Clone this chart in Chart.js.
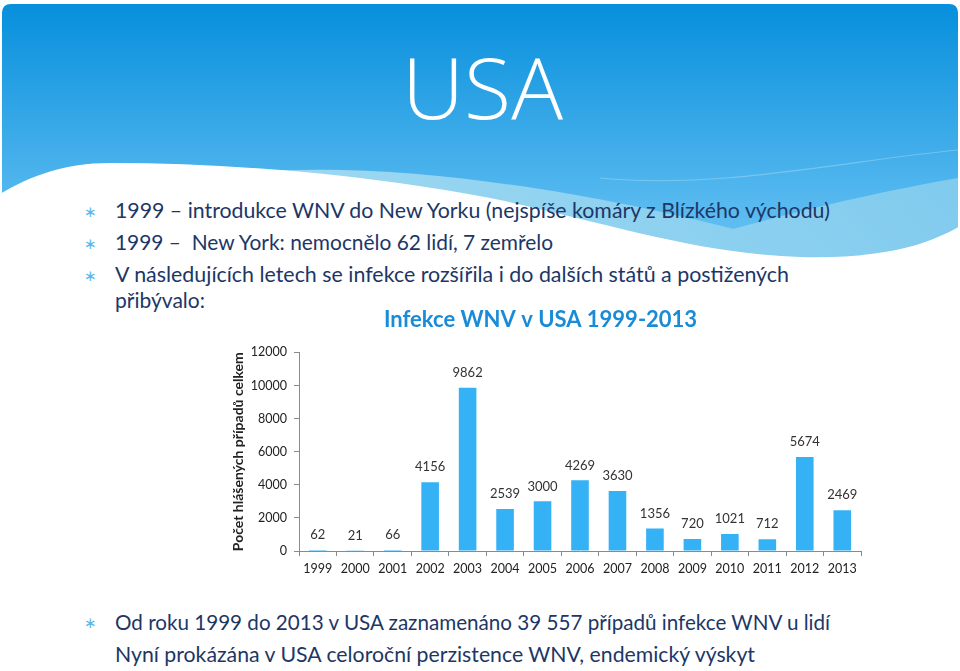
<!DOCTYPE html>
<html><head><meta charset="utf-8">
<script src="https://cdn.jsdelivr.net/npm/chart.js@4"></script>
<style>
html,body{margin:0;padding:0;width:960px;height:671px;overflow:hidden;background:#fff;font-family:Lato,"Open Sans",sans-serif;}
#bg{position:absolute;left:0;top:0}
.t{position:absolute;white-space:pre;transform-origin:0 50%;color:#1c3766;font-size:21px;line-height:26px;}
.b{position:absolute;color:#5ab8e8;font-size:15px;line-height:20px;}
#title{position:absolute;color:#fff;font-family:"Open Sans",sans-serif;font-weight:300;font-size:84px;line-height:90px;white-space:pre;transform-origin:0 50%;}
#wrap{position:absolute;left:220px;top:300px;width:660px;height:290px;}
</style></head>
<body>
<svg id="bg" width="960" height="671" viewBox="0 0 960 671">
  <defs>
    <linearGradient id="hg" x1="0" y1="0" x2="0" y2="1" gradientUnits="objectBoundingBox">
      <stop offset="0" stop-color="#078fdc"/>
      <stop offset="0.75" stop-color="#55b8ef"/>
      <stop offset="1" stop-color="#6cc3f2"/>
    </linearGradient>
    <linearGradient id="lb" x1="0" y1="0" x2="1" y2="0">
      <stop offset="0" stop-color="#a6dcf2"/>
      <stop offset="1" stop-color="#86cdee"/>
    </linearGradient>
  </defs>
  <path d="M2,13 Q2,4 11,4 L949,4 Q958,4 958,13 L958,265 L2,265 Z" fill="url(#hg)"/>
  <path d="M255,172 C420,160 620,200 733,229 C820,205 900,188 958,178 L958,265 L255,265 Z" fill="url(#lb)" opacity="0.9"/>
  <path d="M600,178 C720,190 850,160 958,150" stroke="#ffffff" stroke-opacity="0.25" stroke-width="1.2" fill="none"/>
  <path d="M0,194 C30,176 65,163 110,163 C250,163 390,178 500,200 C610,224 700,254 800,257 C875,259 925,247 960,226 L960,671 L0,671 Z" fill="#ffffff"/>
</svg>

<div id="title" data-w="161" style="left:402px;top:42px;">USA</div>

<div class="b" style="left:84px;top:201px;">∗</div>
<div class="t" data-w="715" style="left:115px;top:197px;">1999 – introdukce WNV do New Yorku (nejspíše komáry z Blízkého východu)</div>
<div class="b" style="left:84px;top:233px;">∗</div>
<div class="t" data-w="438" style="left:115px;top:229px;">1999 –  New York: nemocnělo 62 lidí, 7 zemřelo</div>
<div class="b" style="left:84px;top:265px;">∗</div>
<div class="t" data-w="674" style="left:115px;top:261px;">V následujících letech se infekce rozšířila i do dalších států a postižených</div>
<div class="t" data-w="90" style="left:115px;top:287px;">přibývalo:</div>

<div class="b" style="left:84px;top:612px;">∗</div>
<div class="t" data-w="715" style="left:115px;top:609px;">Od roku 1999 do 2013 v USA zaznamenáno 39 557 případů infekce WNV u lidí</div>
<div class="t" data-w="640" style="left:115px;top:641px;">Nyní prokázána v USA celoroční perzistence WNV, endemický výskyt</div>

<div id="wrap"><canvas id="c" width="660" height="290"></canvas></div>

<script>
const years = ['1999','2000','2001','2002','2003','2004','2005','2006','2007','2008','2009','2010','2011','2012','2013'];
const cases = [62,21,66,4156,9862,2539,3000,4269,3630,1356,720,1021,712,5674,2469];
const yMin = 0, yMax = 12000, yStep = 2000;
const chartTitle = 'Infekce WNV v USA 1999-2013';
const yAxisTitle = 'Počet hlášených případů celkem';

document.querySelectorAll('[data-w]').forEach(el => {
  const w = el.getBoundingClientRect().width;
  const target = parseFloat(el.dataset.w);
  if (w > 0) el.style.transform = 'scaleX(' + (target / w) + ')';
});

const valueLabels = {
  id: 'valueLabels',
  afterDatasetsDraw(chart) {
    const ctx = chart.ctx;
    const meta = chart.getDatasetMeta(0);
    ctx.save();
    ctx.font = '13px Lato, sans-serif';
    ctx.fillStyle = '#333';
    ctx.textAlign = 'center';
    ctx.textBaseline = 'middle';
    meta.data.forEach((bar, i) => {
      ctx.fillText(String(cases[i]), bar.x, bar.y - 15);
    });
    ctx.restore();
  }
};

new Chart(document.getElementById('c'), {
  type: 'bar',
  data: {
    labels: years,
    datasets: [{
      data: cases,
      backgroundColor: '#35b2f6',
      borderWidth: 0,
      barPercentage: 0.47,
      categoryPercentage: 1.0
    }]
  },
  options: {
    responsive: false,
    animation: false,
    devicePixelRatio: 1,
    layout: { padding: { left: 0, right: 19, top: 0, bottom: 0 } },
    plugins: {
      legend: { display: false },
      tooltip: { enabled: false },
      title: {
        display: true,
        text: chartTitle,
        color: '#1a8bd6',
        font: { family: 'Lato', size: 22, weight: 'bold' },
        padding: { top: 7, bottom: 19 }
      }
    },
    scales: {
      x: {
        offset: true,
        grid: { display: true, drawOnChartArea: false, drawTicks: true, tickLength: 5, color: '#8a8a8a', offset: true },
        border: { display: true, color: '#8a8a8a' },
        ticks: { color: '#222', font: { family: 'Lato', size: 12.5 }, padding: 5, maxRotation: 0, autoSkip: false },
        afterFit(s) { s.height = 39; }
      },
      y: {
        min: yMin, max: yMax,
        grid: { display: true, drawOnChartArea: false, drawTicks: true, tickLength: 5, color: '#8a8a8a' },
        border: { display: true, color: '#8a8a8a' },
        ticks: { stepSize: yStep, color: '#222', font: { family: 'Lato', size: 12.5 }, padding: 7, callback: v => String(v) },
        title: { display: true, text: yAxisTitle, color: '#222', font: { family: 'Lato', size: 14, weight: 'bold' }, padding: { top: 10, bottom: 0 } },
        afterFit(s) { s.width = 79; }
      }
    }
  },
  plugins: [valueLabels]
});
</script>
</body></html>
